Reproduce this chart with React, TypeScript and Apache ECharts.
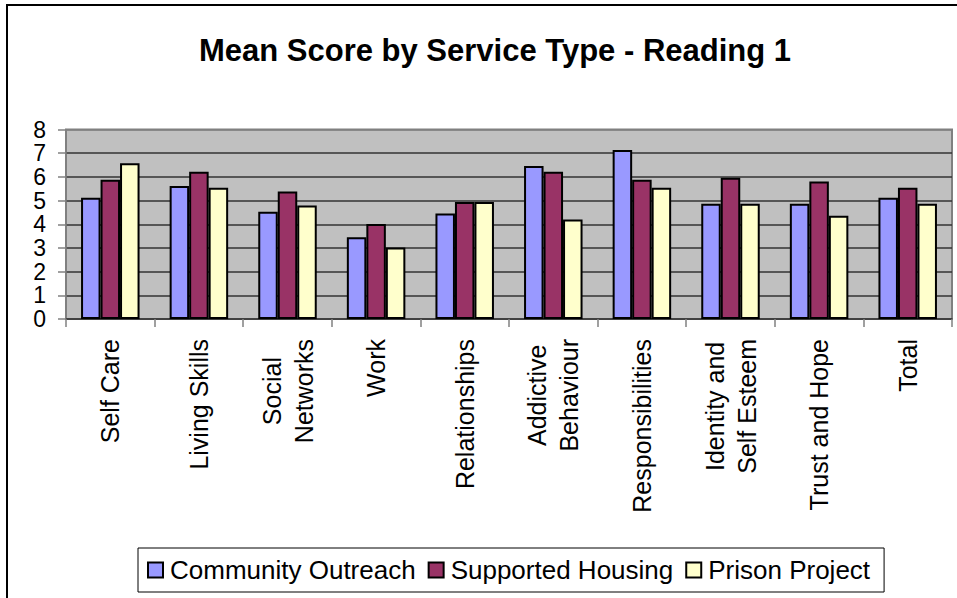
import React, { useEffect, useRef } from "react";
import * as echarts from "echarts";

const titleText = "Mean Score by Service Type - Reading 1";
const categories = [
  "Self Care",
  "Living Skills",
  "Social\nNetworks",
  "Work",
  "Relationships",
  "Addictive\nBehaviour",
  "Responsibilities",
  "Identity and\nSelf Esteem",
  "Trust and Hope",
  "Total",
];
const seriesNames = ["Community Outreach", "Supported Housing", "Prison Project"];
const communityOutreach = [5.12, 5.61, 4.53, 3.45, 4.45, 6.46, 7.13, 4.87, 4.87, 5.12];
const supportedHousing = [5.88, 6.22, 5.38, 4.01, 4.94, 6.22, 5.88, 5.96, 5.81, 5.54];
const prisonProject = [6.57, 5.54, 4.79, 3.02, 4.94, 4.2, 5.54, 4.87, 4.36, 4.87];
const seriesColors = ["#9999FF", "#993366", "#FFFFCC"];
const yMin = 0;
const yMax = 8;
const yInterval = 1;

const FONT = "'Liberation Sans', Arial, Helvetica, sans-serif";

export default function App() {
  const ref = useRef<HTMLDivElement>(null);

  useEffect(() => {
    if (!ref.current) return;
    const chart = echarts.init(ref.current, undefined, { renderer: "svg" });
    const data = [communityOutreach, supportedHousing, prisonProject];
    const gridColors = ["#333333", "#333333", "#333333", "#333333", "#333333", "#333333", "#333333", "#333333", "#808080"];
    chart.setOption({
      animation: false,
      backgroundColor: "#ffffff",
      textStyle: { fontFamily: FONT },
      title: {
        text: titleText,
        left: 490,
        top: 30,
        textAlign: "center",
        textStyle: { fontFamily: FONT, fontSize: 31, fontWeight: "bold", color: "#000" },
      },
      graphic: [
        {
          type: "rect",
          shape: { x: 7, y: 5, width: 970, height: 620 },
          style: { fill: "none", stroke: "#000", lineWidth: 2 },
          silent: true,
          z: -10,
        },
      ],
      legend: {
        left: 138,
        top: 548,
        orient: "horizontal",
        data: seriesNames,
        icon: "rect",
        itemWidth: 15,
        itemHeight: 15,
        itemGap: 12,
        padding: [9, 14, 9, 9],
        borderColor: "#000",
        borderWidth: 1,
        backgroundColor: "#fff",
        textStyle: { fontFamily: FONT, fontSize: 26, color: "#000", padding: [0, 0, 0, 2] },
      },
      grid: {
        left: 66,
        top: 129.5,
        right: 5,
        bottom: 279,
        show: true,
        backgroundColor: "#C0C0C0",
        borderColor: "#808080",
        borderWidth: 2,
        containLabel: false,
      },
      xAxis: {
        type: "category",
        data: categories,
        axisLine: { show: true, lineStyle: { color: "#404040", width: 1.5 } },
        axisTick: { show: true, length: 8, lineStyle: { color: "#808080", width: 1.5 } },
        axisLabel: {
          rotate: 90,
          margin: 20,
          interval: 0,
          fontFamily: FONT,
          fontSize: 25,
          color: "#000",
          lineHeight: 32,
          formatter: (v: string) =>
            v.indexOf("\n") >= 0
              ? v
                  .split("\n")
                  .map((s) => "{c|" + s + "}")
                  .join("\n")
              : v,
          rich: {
            c: { align: "center", fontFamily: FONT, fontSize: 25, color: "#000", lineHeight: 32 },
          },
        },
      },
      yAxis: {
        type: "value",
        min: yMin,
        max: yMax,
        interval: yInterval,
        axisLine: { show: true, lineStyle: { color: "#808080", width: 1.5 } },
        axisTick: { show: true, length: 8, lineStyle: { color: "#808080", width: 1.5 } },
        axisLabel: { margin: 20, fontFamily: FONT, fontSize: 23, color: "#000" },
        splitLine: { show: true, lineStyle: { color: gridColors, width: 1.5 } },
      },
      series: seriesNames.map((name, i) => ({
        name,
        type: "bar",
        data: data[i],
        barWidth: 19.5,
        barGap: "0%",
        itemStyle: { color: seriesColors[i], borderColor: "#000", borderWidth: 2 },
      })),
    });
    return () => chart.dispose();
  }, []);

  return (
    <div
      ref={ref}
      style={{ position: "fixed", left: 0, top: 0, width: 957, height: 598, background: "#fff" }}
    />
  );
}
